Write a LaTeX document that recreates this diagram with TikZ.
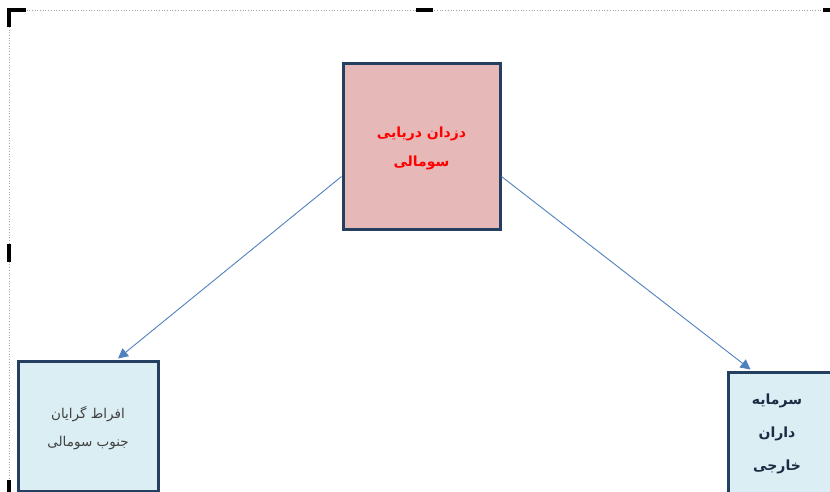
\documentclass[tikz,border=0pt]{standalone}
\usepackage{fontspec}
\newfontfamily\arabicfont[Script=Arabic]{DejaVu Sans}
\TeXXeTstate=1
\usetikzlibrary{arrows.meta,calc}
\definecolor{navy}{HTML}{243F60}
\definecolor{pinkfill}{HTML}{E6B9B8}
\definecolor{bluefill}{HTML}{DBEEF4}
\definecolor{arrowblue}{HTML}{4F81BD}
\definecolor{redtext}{HTML}{FF0000}
\definecolor{darktext}{HTML}{404040}
\tikzset{
  box/.style={draw=navy, line width=3pt, minimum width=#1, inner sep=0pt},
  arr/.style={draw=arrowblue, line width=0.9pt, -{Triangle[length=10pt,width=10pt]}},
  handlemark/.style={line width=4pt, black},
  lbl/.style={align=center, inner sep=0pt}
}
\begin{document}
\begin{tikzpicture}[x=1pt,y=-1pt]
\useasboundingbox (0,0) rectangle (830,491);
\clip (0,0) rectangle (830,491);
% frame
\draw[gray!70, dotted, line width=0.7pt] (9,500) -- (9,10) -- (840,10);
\draw[handlemark] (9,27) -- (9,10) -- (26,10);
\draw[handlemark] (416,10) -- (433,10);
\draw[handlemark] (823,10) -- (840,10);
\draw[handlemark] (9,244) -- (9,262);
\draw[handlemark] (9,480) -- (9,495);
% boxes
\node[box=157pt, minimum height=166pt, fill=pinkfill] (top) at (421.5,146) {};
\node[box=140pt, minimum height=130pt, fill=bluefill] (left) at (88,426) {};
\node[box=110pt, minimum height=130pt, fill=bluefill] (right) at (783,437) {};
% texts
\node[lbl, text=redtext, font=\arabicfont\bfseries\fontsize{14}{29}\selectfont] (toptext) at (421.5,148) {\beginR دزدان دریایی\endR\\\beginR سومالی\endR};
\node[lbl, text=darktext, font=\arabicfont\fontsize{13.5}{28}\selectfont] (lefttext) at (88,428) {\beginR افراط گرایان\endR\\\beginR جنوب سومالی\endR};
\node[lbl, text=navy!70!black, font=\arabicfont\bfseries\fontsize{14}{33}\selectfont] (righttext) at (777,434) {\beginR سرمایه\endR\\\beginR داران\endR\\\beginR خارجی\endR};
% connectors
\coordinate (ls) at ($(top.north west)+(0,115)$);
\coordinate (rs) at ($(top.north east)+(0,115)$);
\coordinate (le) at ($(left.north)+(30,-1)$);
\coordinate (re) at ($(right.north west)+(24,-1)$);
\draw[arr] (ls) -- (le);
\draw[arr] (rs) -- (re);
\end{tikzpicture}
\end{document}
